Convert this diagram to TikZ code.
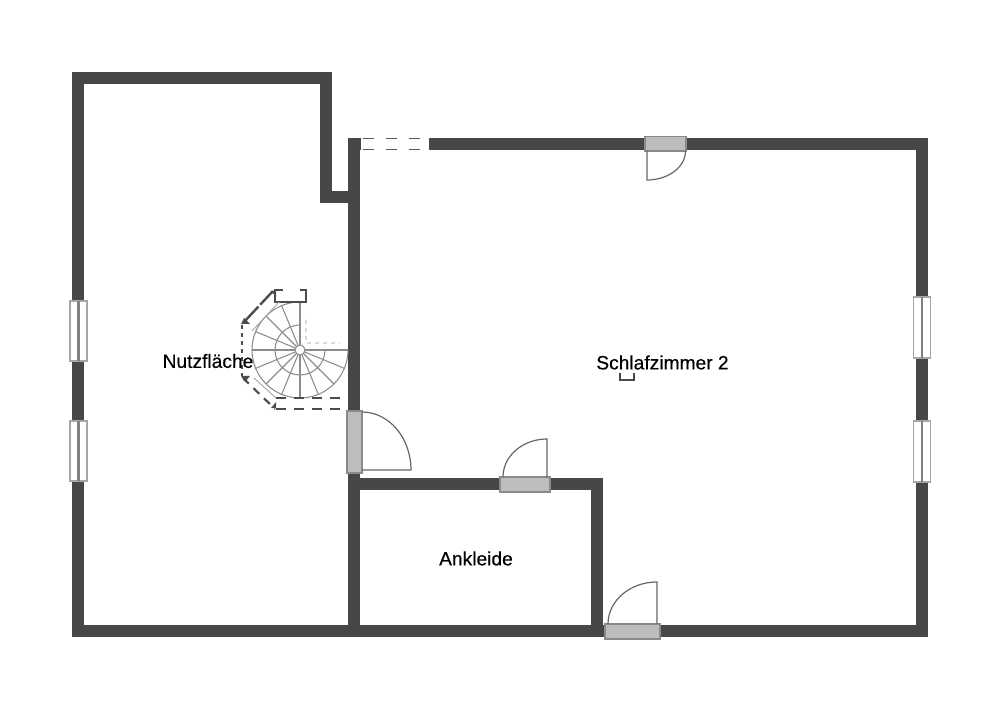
\documentclass[tikz,border=0pt]{standalone}
\usepackage{fontspec}
\setmainfont{Liberation Sans}[FakeBold=0.45]
\definecolor{wallcol}{HTML}{474747}
\definecolor{doorcol}{HTML}{BDBDBD}
\definecolor{framecol}{HTML}{8A8A8A}
\tikzset{
  wall/.style={draw=wallcol,line width=8.6pt,miter limit=4},
  doorframe/.style={draw=framecol,fill=doorcol,line width=0.9pt},
  doorleaf/.style={draw=black!60,line width=0.9pt},
  winframe/.style={draw=black!35,fill=white,line width=1.3pt},
  winline/.style={draw=black!50,line width=1.8pt},
  stair/.style={draw=black!45,line width=0.8pt},
  rail/.style={draw=black!70,line width=1pt},
  railend/.style={fill=black!70},
  room/.style={anchor=center,inner sep=0.75pt,font=\fontsize{14.4}{16}\selectfont},
}
\begin{document}
\begin{tikzpicture}[x=0.75pt,y=0.75pt,yscale=-1,xscale=1]
\useasboundingbox (0,0) rectangle (1000,709);

%Outer walls
\draw[wall] (354,144) -- (922,144) -- (922,631) -- (78,631) -- (78,78) -- (326,78) -- (326,197) -- (354,197);
\draw[wall] (354,138) -- (354,631);
%Walk-in walls
\draw[wall] (354,484) -- (597,484) -- (597,631);

%Top window
\fill[white] (361,133) rectangle (429,155);
\draw[draw=black!65,line width=1.1pt,dash pattern=on 8.2pt off 9pt] (363,138.5) -- (429,138.5);
\draw[draw=black!65,line width=1.1pt,dash pattern=on 8.2pt off 9pt] (363,149.5) -- (429,149.5);

%Windows left
\draw[winframe] (70,301) rectangle (87,361);
\draw[winline] (78.5,301) -- (78.5,361);
\draw[winframe] (70,421) rectangle (87,481);
\draw[winline] (78.5,421) -- (78.5,481);
%Windows right
\draw[winframe] (913.5,297) rectangle (930.5,358);
\draw[winline] (922,297) -- (922,358);
\draw[winframe] (913.5,421) rectangle (930.5,482);
\draw[winline] (922,421) -- (922,482);

%Door top
\draw[doorframe] (645,136.5) rectangle (686,151);
\draw[doorleaf] (647,151) -- (647,180) arc (90:0:38.5 and 29);
%Door stairs
\draw[doorframe] (347,411) rectangle (362,473);
\draw[doorleaf] (362,470) -- (411,470) arc (0:-90:49 and 58);
%Door walk-in
\draw[doorframe] (500,477) rectangle (550,492);
\draw[doorleaf] (547,477) -- (547,439) arc (-90:-180:44 and 38);
%Door bottom
\draw[doorframe] (605,624) rectangle (660,639);
\draw[doorleaf] (657,624) -- (657,582) arc (-90:-180:49 and 42);

%Stairs
\draw[stair] (300,350) ++(-90:48) arc (-90:-360:48);
\draw[stair] (300,350) ++(-90:25) arc (-90:-360:25);
\foreach \a in {-90,-112.5,...,-360}
  \draw[stair] (300,350) ++(\a:5) -- ++(\a:43);
\draw[stair,fill=white] (300,350) circle (5);
%Stairs dashed upper run
\draw[draw=black!15,line width=0.8pt,dashed] (306,320) -- (306,343) -- (340,343);
%Stairs railing
\draw[rail] (275,290) -- (306,290) -- (306,302) -- (275,302) -- cycle;
\fill[white] (283,288) rectangle (300,292);
\draw[rail,line width=1.8pt,dash pattern=on 14pt off 2pt] (273,291) -- (244,322);
\draw[draw=black!35,line width=0.7pt] (279,302) -- (252,331);
\draw[rail,dashed] (242,325) -- (242,376);
\draw[rail,line width=1.6pt,dash pattern=on 6pt off 5pt] (243,378) -- (275,409);
\draw[draw=black!35,line width=0.7pt] (254,378) -- (276,398);
\draw[rail,dash pattern=on 7.5pt off 6pt] (276,398) -- (348,398);
\draw[rail,dash pattern=on 7.5pt off 6pt] (276,409) -- (348,409);
\fill[railend] (271,291) -- (276,291) -- (276,297) -- cycle;
\fill[railend] (241,324) -- (250,324) -- (244,318) -- cycle;
\fill[railend] (241,376) -- (250,376) -- (245,382) -- cycle;
\fill[railend] (271,408) -- (276,408) -- (276,402) -- cycle;

%Mark
\draw[draw=wallcol,line width=1.5pt] (620,373) -- (620,380) -- (634,380) -- (634,373);

% Text Node
\node (nutzflaeche) [room] at (208,361) {Nutzfläche};
% Text Node
\node (schlafzimmer) [room] at (662.5,362.5) {Schlafzimmer 2};
% Text Node
\node (ankleide) [room] at (476,558.5) {Ankleide};

\end{tikzpicture}
\end{document}
